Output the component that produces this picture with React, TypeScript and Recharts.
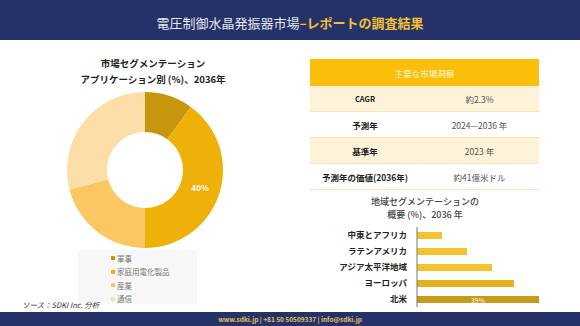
import { PieChart, Pie, Cell, BarChart, Bar, XAxis, YAxis, LabelList } from 'recharts';

const FONT = "'Noto Sans CJK JP', 'Noto Sans', sans-serif";

// donut: application segments
const appNames = ['軍事', '家庭用電化製品', '産業', '通信'];
const appShares = [10, 40, 21, 29];
const appColors = ['#C8960C', '#EEB10A', '#FBC763', '#FDDDA8'];

// bars: regional segments
const regionNames = ['中東とアフリカ', 'ラテンアメリカ', 'アジア太平洋地域', 'ヨーロッパ', '北米'];
const regionShares = [8, 16, 24, 31, 39];
const regionColors = ['#F4C22E', '#F4C22E', '#F4C22E', '#E6B11E', '#C99A1A'];

// table
const insightLabels = ['CAGR', '予測年', '基準年', '予測年の価値(2036年)'];
const insightValues = ['約2.3%', '2024—2036 年', '2023 年', '約41億米ドル'];

const pieData = appNames.map((name, i) => ({ name, value: appShares[i] }));
const barData = regionNames.map((name, i) => ({ name, value: regionShares[i] }));

const RAD = Math.PI / 180;

function DonutLabel(props: any) {
  const { cx, cy, midAngle, innerRadius, outerRadius, index, value } = props;
  if (index !== 1) return null;
  const r = (innerRadius + outerRadius) / 2;
  const x = cx + r * Math.cos(-midAngle * RAD);
  const y = cy + r * Math.sin(-midAngle * RAD);
  return (
    <text x={x} y={y} fill="#fff" fontSize={8} fontWeight={700} textAnchor="middle" dominantBaseline="central" fontFamily={FONT}>
      {value}%
    </text>
  );
}

function BarValue(props: any) {
  const { x, y, width, height, index, value } = props;
  if (index !== regionNames.length - 1) return null;
  return (
    <text x={x + width / 2} y={y + height / 2} fill="#F3E3B0" fontSize={6.5} fontWeight={700} textAnchor="middle" dominantBaseline="central" fontFamily={FONT}>
      {value}%
    </text>
  );
}

export default function App() {
  return (
    <div style={{ position: 'absolute', left: 0, top: 0, width: 580, height: 326, background: '#fff', fontFamily: FONT, overflow: 'hidden' }}>
      {/* header */}
      <div style={{ position: 'absolute', left: 0, top: 0, width: 580, height: 40, background: '#253268', display: 'flex', alignItems: 'center', justifyContent: 'center', fontSize: 13, paddingTop: 4, boxSizing: 'border-box' }}>
        <span style={{ color: '#E6E8F0' }}>電圧制御水晶発振器市場</span>
        <span style={{ color: '#F2C035', fontWeight: 700 }}>–レポートの調査結果</span>
      </div>

      {/* donut title */}
      <div style={{ position: 'absolute', left: 53, width: 200, top: 55, textAlign: 'center', fontSize: 9.5, fontWeight: 700, color: '#222', lineHeight: '16px' }}>
        <div>市場セグメンテーション</div>
        <div>アプリケーション別 (%)、2036年</div>
      </div>

      <div style={{ position: 'absolute', left: 0, top: 75 }}>
        <PieChart width={290} height={180}>
          <Pie
            data={pieData}
            dataKey="value"
            cx={140}
            cy={90}
            innerRadius={38}
            outerRadius={78}
            startAngle={90}
            endAngle={-270}
            stroke="none"
            label={DonutLabel}
            labelLine={false}
            isAnimationActive={false}
          >
            {pieData.map((d, i) => (
              <Cell key={d.name} fill={appColors[i]} />
            ))}
          </Pie>
        </PieChart>
      </div>

      {/* legend */}
      <div style={{ position: 'absolute', left: 78, top: 250, width: 119, height: 54, background: '#F7F7F7' }}>
        {appNames.map((n, i) => (
          <div key={n} style={{ position: 'absolute', left: 33, top: 2 + i * 13.6, height: 12, display: 'flex', alignItems: 'center', fontSize: 7.5, color: '#777' }}>
            <span style={{ width: 4, height: 4, background: appColors[i], marginRight: 2 }} />
            {n}
          </div>
        ))}
      </div>

      <div style={{ position: 'absolute', left: 22, top: 299, fontSize: 7.5, fontStyle: 'italic', color: '#333' }}>ソース：SDKI Inc. 分析</div>

      {/* table */}
      <div style={{ position: 'absolute', left: 310, top: 59, width: 229 }}>
        <div style={{ height: 27, background: '#FBBE0A', color: '#FFF6DA', fontSize: 8.5, display: 'flex', alignItems: 'center', justifyContent: 'center' }}>主要な市場洞察</div>
        {insightLabels.map((l, i) => (
          <div key={l} style={{ height: 26, display: 'flex', alignItems: 'center', background: i % 2 === 0 ? '#FEF2D8' : '#fff', borderBottom: '1px solid #F8E6B8', boxSizing: 'border-box' }}>
            <div style={{ width: 110, textAlign: 'center', fontWeight: 700, fontSize: i === 0 ? 7.5 : 8.5, color: '#222' }}>{l}</div>
            <div style={{ width: 119, textAlign: 'center', fontSize: 8.5, color: '#555' }}>{insightValues[i]}</div>
          </div>
        ))}
      </div>

      {/* bar title */}
      <div style={{ position: 'absolute', left: 325, width: 200, top: 196, textAlign: 'center', fontSize: 9, fontWeight: 500, color: '#444', lineHeight: '12.5px' }}>
        <div>地域セグメンテーションの</div>
        <div>概要 (%)、2036 年</div>
      </div>

      <div style={{ position: 'absolute', left: 300, top: 220 }}>
        <BarChart width={250} height={95} data={barData} layout="vertical" margin={{ top: 7, right: 11, bottom: 8, left: 0 }}>
          <XAxis type="number" domain={[0, 39]} hide />
          <YAxis
            type="category"
            dataKey="name"
            width={117}
            interval={0}
            axisLine={{ stroke: '#777' }}
            tickLine={false}
            tickMargin={4}
            tick={{ fontSize: 8.5, fontWeight: 700, fill: '#222', fontFamily: FONT }}
          />
          <Bar dataKey="value" barSize={7} isAnimationActive={false}>
            {barData.map((d, i) => (
              <Cell key={d.name} fill={regionColors[i]} />
            ))}
            <LabelList dataKey="value" content={BarValue} />
          </Bar>
        </BarChart>
      </div>

      {/* footer */}
      <div style={{ position: 'absolute', left: 0, top: 312, width: 580, height: 14, background: '#253268', display: 'flex', alignItems: 'center', justifyContent: 'center', fontSize: 6.5, fontWeight: 700, color: '#E8C25A' }}>
        www.sdki.jp | +81 50 50509337 | info@sdki.jp
      </div>
    </div>
  );
}
